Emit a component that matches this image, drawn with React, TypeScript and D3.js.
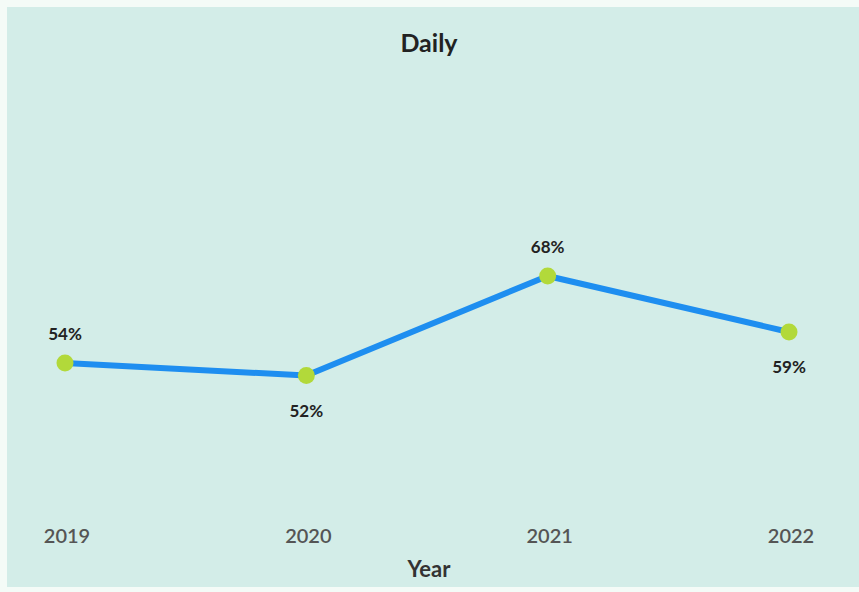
import React from "react";
import * as d3 from "d3";

const years = ["2019", "2020", "2021", "2022"];
const values = [54, 52, 68, 59];
const labelPos = ["above", "below", "above", "below"];
const title = "Daily";
const xTitle = "Year";

const W = 859;
const H = 592;

export default function App() {
  const x = d3.scalePoint<string>().domain(years).range([65, 789]);
  const y = d3.scaleLinear().domain([52, 68]).range([375.5, 276]);
  const line = d3
    .line<number>()
    .x((_, i) => x(years[i]) as number)
    .y((d) => y(d));
  const font = "Lato, 'Open Sans', sans-serif";
  return (
    <svg
      width={W}
      height={H}
      style={{ position: "absolute", left: 0, top: 0, display: "block" }}
    >
      <rect x={0} y={0} width={W} height={H} fill="#f4fbf7" />
      <rect x={7} y={7} width={W - 7} height={H - 12} fill="#d3ede8" />
      <text
        x={429}
        y={52}
        textAnchor="middle"
        fontFamily={font}
        fontWeight="bold"
        fontSize={25}
        fill="#222"
      >
        {title}
      </text>
      <path d={line(values) || ""} fill="none" stroke="#1e8ef0" strokeWidth={6} strokeLinejoin="round" />
      {values.map((v, i) => (
        <circle key={"c" + i} cx={x(years[i])} cy={y(v)} r={8.5} fill="#b2d93a" />
      ))}
      {values.map((v, i) => (
        <text
          key={"l" + i}
          x={x(years[i])}
          y={labelPos[i] === "above" ? y(v) - 23 : y(v) + 41}
          textAnchor="middle"
          fontFamily={font}
          fontWeight="bold"
          fontSize={17}
          fill="#222"
        >
          {v}%
        </text>
      ))}
      {years.map((yr) => (
        <text
          key={yr}
          x={(x(yr) as number) + 2}
          y={543}
          textAnchor="middle"
          fontFamily={font}
          fontWeight={600}
          fontSize={20}
          fill="#555"
        >
          {yr}
        </text>
      ))}
      <text
        x={429}
        y={577}
        textAnchor="middle"
        fontFamily={font}
        fontWeight="bold"
        fontSize={22}
        fill="#333"
      >
        {xTitle}
      </text>
    </svg>
  );
}
